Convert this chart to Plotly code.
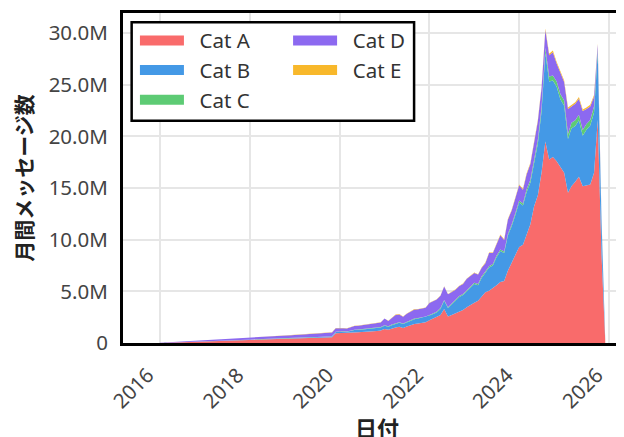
import pandas as pd
import plotly.graph_objects as go

# Monthly message counts (millions), Jan 2016 .. Dec 2025
dates = pd.date_range("2016-01-01", periods=120, freq="MS")

cat_a = [
    0.01, 0.02, 0.03, 0.04, 0.05, 0.06, 0.07, 0.08, 0.09, 0.10, 0.11, 0.12,
    0.13, 0.14, 0.15, 0.16, 0.17, 0.18, 0.19, 0.20, 0.21, 0.22, 0.23, 0.24,
    0.27, 0.29, 0.30, 0.31, 0.32, 0.33, 0.34, 0.35, 0.36, 0.37, 0.38, 0.39,
    0.41, 0.42, 0.43, 0.45, 0.46, 0.48, 0.49, 0.51, 0.52, 0.54, 0.55, 0.95,
    0.96, 0.95, 0.94, 1.00, 1.03, 1.04, 1.06, 1.07, 1.09, 1.12, 1.15, 1.20,
    1.35, 1.28, 1.40, 1.50, 1.57, 1.45, 1.60, 1.75, 1.83, 1.88, 1.94, 2.00,
    2.20, 2.35, 2.48, 2.70, 3.28, 2.57, 2.70, 2.85, 3.00, 3.20, 3.45, 3.70,
    3.90, 4.08, 4.50, 4.90, 5.05, 5.30, 5.60, 5.90, 6.00, 7.00, 7.80, 8.60,
    9.30, 9.50, 10.50, 11.50, 13.20, 14.30, 16.50, 19.50, 17.75, 18.00, 17.60, 17.00,
    16.47, 14.54, 15.17, 15.60, 16.10, 15.17, 15.25, 15.34, 16.47, 21.60, 8.50, 0.20,
]
cat_b = [
    0.00, 0.00, 0.00, 0.01, 0.01, 0.01, 0.01, 0.01, 0.01, 0.02, 0.02, 0.02,
    0.02, 0.02, 0.02, 0.03, 0.03, 0.03, 0.03, 0.03, 0.03, 0.04, 0.04, 0.04,
    0.04, 0.04, 0.05, 0.05, 0.05, 0.05, 0.05, 0.05, 0.06, 0.06, 0.06, 0.06,
    0.06, 0.07, 0.07, 0.07, 0.07, 0.07, 0.08, 0.08, 0.08, 0.08, 0.08, 0.12,
    0.15, 0.15, 0.14, 0.17, 0.22, 0.23, 0.24, 0.25, 0.26, 0.27, 0.28, 0.30,
    0.32, 0.30, 0.33, 0.36, 0.38, 0.38, 0.40, 0.43, 0.47, 0.48, 0.50, 0.50,
    0.45, 0.45, 0.48, 0.60, 0.80, 0.81, 1.00, 1.25, 1.45, 1.45, 1.55, 1.65,
    1.80, 1.52, 1.80, 1.90, 2.25, 2.20, 2.70, 3.00, 2.70, 3.40, 3.50, 3.80,
    4.30, 3.80, 4.10, 4.00, 4.20, 5.00, 5.90, 8.60, 7.55, 7.40, 7.20, 6.60,
    6.50, 5.20, 5.60, 5.40, 5.45, 4.90, 5.40, 5.70, 5.85, 6.50, 3.00, 0.07,
]
cat_c = [
    0.00, 0.00, 0.00, 0.00, 0.00, 0.00, 0.00, 0.00, 0.00, 0.00, 0.00, 0.00,
    0.01, 0.01, 0.01, 0.01, 0.01, 0.01, 0.01, 0.01, 0.01, 0.01, 0.01, 0.01,
    0.01, 0.01, 0.01, 0.01, 0.01, 0.01, 0.01, 0.01, 0.01, 0.01, 0.01, 0.01,
    0.01, 0.01, 0.01, 0.01, 0.01, 0.02, 0.02, 0.02, 0.02, 0.02, 0.02, 0.03,
    0.03, 0.03, 0.03, 0.03, 0.03, 0.03, 0.03, 0.04, 0.04, 0.04, 0.04, 0.04,
    0.05, 0.05, 0.05, 0.05, 0.05, 0.05, 0.06, 0.06, 0.06, 0.06, 0.06, 0.06,
    0.07, 0.07, 0.07, 0.08, 0.08, 0.08, 0.08, 0.09, 0.09, 0.10, 0.10, 0.11,
    0.12, 0.12, 0.13, 0.13, 0.14, 0.14, 0.15, 0.15, 0.15, 0.16, 0.17, 0.18,
    0.20, 0.20, 0.25, 0.30, 0.35, 0.40, 0.45, 0.45, 0.50, 0.50, 0.50, 0.50,
    0.50, 0.50, 0.55, 0.55, 0.55, 0.55, 0.55, 0.55, 0.60, 0.30, 0.15, 0.01,
]
cat_d = [
    0.01, 0.02, 0.03, 0.03, 0.04, 0.05, 0.06, 0.07, 0.08, 0.08, 0.09, 0.10,
    0.10, 0.11, 0.12, 0.12, 0.13, 0.14, 0.15, 0.16, 0.17, 0.17, 0.18, 0.19,
    0.19, 0.20, 0.21, 0.22, 0.23, 0.24, 0.25, 0.26, 0.26, 0.27, 0.28, 0.29,
    0.30, 0.30, 0.31, 0.32, 0.33, 0.33, 0.34, 0.35, 0.36, 0.37, 0.37, 0.33,
    0.32, 0.30, 0.29, 0.33, 0.37, 0.38, 0.39, 0.40, 0.44, 0.43, 0.44, 0.44,
    0.64, 0.50, 0.65, 0.81, 0.77, 0.66, 0.76, 0.78, 0.89, 0.85, 0.85, 0.85,
    1.15, 1.15, 1.18, 1.19, 1.30, 1.26, 1.14, 0.97, 0.97, 0.96, 1.11, 1.00,
    0.96, 0.90, 0.82, 0.80, 1.26, 1.06, 1.10, 1.39, 1.12, 1.38, 1.36, 1.45,
    1.46, 1.34, 1.46, 1.53, 1.65, 1.78, 1.83, 1.75, 2.05, 2.25, 1.75, 2.15,
    1.78, 2.41, 1.53, 1.60, 1.55, 1.83, 1.45, 1.31, 0.93, 0.50, 0.30, 0.02,
]
cat_e = [
    0.00, 0.00, 0.00, 0.00, 0.00, 0.00, 0.00, 0.00, 0.00, 0.00, 0.00, 0.00,
    0.00, 0.00, 0.00, 0.00, 0.00, 0.00, 0.00, 0.00, 0.00, 0.00, 0.00, 0.00,
    0.01, 0.01, 0.01, 0.01, 0.01, 0.01, 0.01, 0.01, 0.01, 0.01, 0.01, 0.01,
    0.01, 0.01, 0.01, 0.01, 0.01, 0.01, 0.01, 0.01, 0.01, 0.01, 0.01, 0.02,
    0.02, 0.02, 0.02, 0.02, 0.02, 0.02, 0.02, 0.02, 0.02, 0.02, 0.02, 0.02,
    0.02, 0.02, 0.02, 0.03, 0.03, 0.03, 0.03, 0.03, 0.03, 0.03, 0.03, 0.03,
    0.03, 0.03, 0.03, 0.03, 0.04, 0.03, 0.03, 0.04, 0.04, 0.04, 0.04, 0.04,
    0.04, 0.04, 0.05, 0.05, 0.05, 0.05, 0.05, 0.06, 0.06, 0.06, 0.07, 0.07,
    0.08, 0.08, 0.09, 0.10, 0.10, 0.12, 0.12, 0.15, 0.15, 0.15, 0.15, 0.15,
    0.15, 0.15, 0.15, 0.15, 0.15, 0.15, 0.15, 0.15, 0.15, 0.10, 0.05, 0.00,
]

names = ["Cat A", "Cat B", "Cat C", "Cat D", "Cat E"]
series = [cat_a, cat_b, cat_c, cat_d, cat_e]
colors = ["#F96B6B", "#4499E6", "#5DCB74", "#8C69F0", "#F8B82B"]

y_tickvals = [0, 5, 10, 15, 20, 25, 30]
y_ticktext = ["0", "5.0M", "10.0M", "15.0M", "20.0M", "25.0M", "30.0M"]
x_title = "日付"
y_title = "月間メッセージ数"

FIG_W = 660
PLOT_L = 115
PLOT_W = FIG_W - PLOT_L

def px_x(p):
    return (p - PLOT_L) / PLOT_W

fig = go.Figure()
for name, vals, col in zip(names, series, colors):
    fig.add_trace(go.Scatter(
        x=dates, y=vals, name=name, stackgroup="one", mode="lines",
        line=dict(width=0, color=col), fillcolor=col, showlegend=False,
        hoverinfo="skip"))

# legend entries (two columns)
legend_of = {"Cat A": "legend", "Cat B": "legend", "Cat C": "legend",
             "Cat D": "legend2", "Cat E": "legend2"}
NBSP = "\u00a0"
for name, col in zip(names, colors):
    fig.add_trace(go.Scatter(
        x=[None], y=[None], name=NBSP * 2 + name, mode="lines",
        line=dict(color=col, width=14), legend=legend_of[name],
        legendgroup=name, showlegend=True))

base_font = "Noto Sans, Open Sans, sans-serif"
tick_font = dict(family=base_font, size=20.5, color="#444")
leg_common = dict(
    bgcolor="rgba(0,0,0,0)", borderwidth=0, xanchor="left", yanchor="top",
    font=dict(family=base_font, size=20.5, color="#333"),
    itemwidth=44, traceorder="grouped", tracegroupgap=0,
    itemclick=False, itemdoubleclick=False)

fig.update_layout(
    width=FIG_W, height=437, autosize=False,
    margin=dict(l=PLOT_L, r=0, t=5, b=102),
    paper_bgcolor="white", plot_bgcolor="white",
    showlegend=True,
    legend=dict(x=px_x(127), y=0.977, **leg_common),
    legend2=dict(x=px_x(281), y=0.977, **leg_common),
    shapes=[dict(type="rect", xref="paper", yref="paper",
                 x0=px_x(123.7), x1=px_x(407.7), y0=0.6736, y1=0.9718,
                 line=dict(color="black", width=2.5), fillcolor="white",
                 layer="above")],
    annotations=[dict(text=x_title, xref="paper", yref="paper",
                      x=0.4688, y=-0.2545, xanchor="center", yanchor="middle",
                      showarrow=False,
                      font=dict(family="Noto Sans CJK JP", size=22,
                                color="#222", weight=700))],
    xaxis=dict(
        type="date", range=["2015-03-07", "2027-04-01"],
        dtick="M24", tick0="2016-01-01", tickformat="%Y",
        tickangle=-45, tickfont=tick_font, ticklabelshift=-12,
        showgrid=True, gridcolor="#e6e6e6", gridwidth=2,
        showline=True, linecolor="black", linewidth=3, mirror=True,
        ticks="outside", ticklen=9, tickcolor="rgba(0,0,0,0)",
        zeroline=False,
    ),
    yaxis=dict(
        range=[0, 31.94], tickvals=y_tickvals, ticktext=y_ticktext,
        tickfont=tick_font,
        showgrid=True, gridcolor="#e6e6e6", gridwidth=2,
        showline=True, linecolor="black", linewidth=3, mirror=True,
        ticks="outside", ticklen=8, tickcolor="rgba(0,0,0,0)",
        zeroline=False,
        title=dict(text=y_title, standoff=12,
                   font=dict(family="Noto Sans CJK JP", size=21,
                             color="#222", weight=700)),
    ),
)

fig.write_html("out.html", config={"responsive": False})
